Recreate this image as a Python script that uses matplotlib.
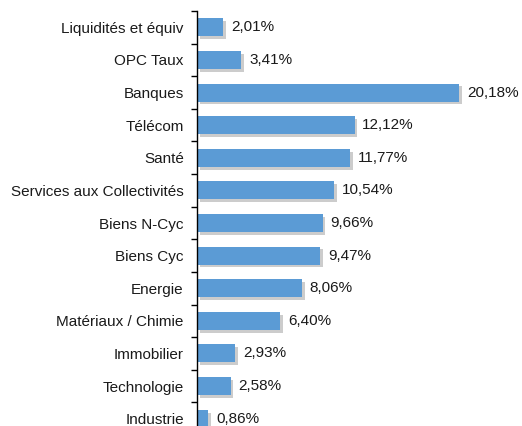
import matplotlib.pyplot as plt
import matplotlib.patheffects as pe

categories = [
    "Liquidités et équiv",
    "OPC Taux",
    "Banques",
    "Télécom",
    "Santé",
    "Services aux Collectivités",
    "Biens N-Cyc",
    "Biens Cyc",
    "Energie",
    "Matériaux / Chimie",
    "Immobilier",
    "Technologie",
    "Industrie",
]
values = [2.01, 3.41, 20.18, 12.12, 11.77, 10.54, 9.66, 9.47, 8.06, 6.40, 2.93, 2.58, 0.86]
value_labels = ["2,01%", "3,41%", "20,18%", "12,12%", "11,77%", "10,54%", "9,66%",
                "9,47%", "8,06%", "6,40%", "2,93%", "2,58%", "0,86%"]

plt.rcParams['font.family'] = ['Liberation Sans', 'DejaVu Sans']

fig = plt.figure(figsize=(5.22, 4.26), dpi=100)
ax = fig.add_axes([197 / 522, -9 / 426, 325 / 522, 424 / 426])

pos = list(range(len(categories)))
bars = ax.barh(pos, values, height=0.55, color="#5B9BD5", zorder=2)
for b in bars:
    b.set_path_effects([pe.SimplePatchShadow(offset=(2, -2), shadow_rgbFace="#808080", alpha=0.4),
                        pe.Normal()])

for p, v, lab in zip(pos, values, value_labels):
    ax.text(v + 0.6, p, lab, va="center", ha="left", fontsize=11, color="#1a1a1a")

ax.set_xlim(0, 25)
ax.set_ylim(len(categories) - 0.5, -0.5)
ax.set_yticks(pos)
ax.set_yticklabels(categories, fontsize=11, color="#1a1a1a")
ax.tick_params(axis="y", which="major", length=0, pad=9.5)
ax.set_yticks([p - 0.5 for p in pos] + [len(categories) - 0.5], minor=True)
ax.tick_params(axis="y", which="minor", length=4, width=1, color="black")
ax.set_xticks([])
for s in ["top", "right", "bottom"]:
    ax.spines[s].set_visible(False)
ax.spines["left"].set_linewidth(1)

fig.savefig("out.png", dpi=100)
